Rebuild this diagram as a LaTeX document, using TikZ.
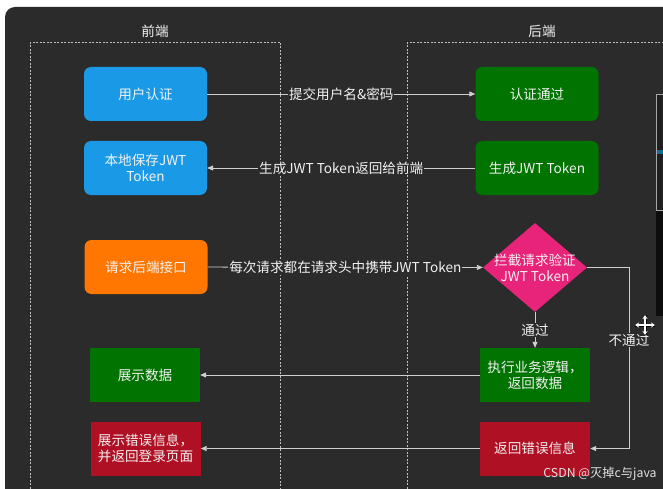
\documentclass[tikz,border=0pt]{standalone}
\usepackage{fontspec}
\setmainfont{Noto Sans CJK SC}
\usetikzlibrary{shapes.geometric,arrows.meta}
\definecolor{bg}{HTML}{2B2B2B}
\definecolor{cblue}{HTML}{1A9AE6}
\definecolor{corange}{HTML}{FF7700}
\definecolor{cgreen}{HTML}{007300}
\definecolor{cred}{HTML}{B01024}
\definecolor{cpink}{HTML}{E8247A}
\definecolor{cline}{HTML}{CFCFCF}
\definecolor{ctext}{HTML}{F2F2F2}
\begin{document}
\begin{tikzpicture}[x=1pt,y=-1pt,
  font=\fontsize{13.6}{16}\selectfont,
  box/.style={minimum width=110pt, minimum height=54pt, text=ctext, align=center, inner sep=2pt},
  rbox/.style={box, minimum width=123pt, rounded corners=7pt},
  conn/.style={draw=cline, line width=0.8pt, -{Triangle[length=6pt,width=5pt]}},
  lbl/.style={fill=bg, text=ctext, inner sep=1pt},
  frame/.style={draw=white!75!black, line width=0.6pt, dash pattern=on 2pt off 1.5pt}]
\useasboundingbox (0,0) rectangle (663,489);
\fill[white] (0,0) rectangle (663,489);
\fill[bg, rounded corners=10pt] (5,7) rectangle (700,520);
% right side window fragment
\fill[black!95] (656,94) rectangle (670,316);
\fill[black!88] (656.5,94.5) rectangle (670,210);
\draw[white!65!black, line width=0.8pt] (656.5,94.5) rectangle (672,210);
\fill[cblue!70!black] (657,150) rectangle (670,154);
% swimlane frames
\draw[frame] (30,42) rectangle (280,510);
\draw[frame] (407,42) rectangle (720,510);
\node[text=ctext] (tf) at (155,31) {前端};
\node[text=ctext] (tb) at (542,31) {后端};
% nodes
\node[rbox, fill=cblue] (ua) at (145.5,94) {用户认证};
\node[rbox, fill=cblue] (save) at (145.5,168) {本地保存JWT\\Token};
\node[rbox, fill=corange] (req) at (146,267) {请求后端接口};
\node[box, fill=cgreen] (show) at (145,375) {展示数据};
\node[box, fill=cred] (showerr) at (145.5,448.5) {展示错误信息，\\并返回登录页面};
\node[rbox, fill=cgreen] (ok) at (537,94) {认证通过};
\node[rbox, fill=cgreen] (gen) at (537,168) {生成JWT Token};
\node[diamond, fill=cpink, minimum width=104pt, minimum height=89pt, inner sep=0pt] (dia) at (535,267.5) {};
\node[text=ctext, align=center, inner sep=0pt] (diatext) at (dia.center) {拦截请求验证\\JWT Token};
\node[box, fill=cgreen] (exec) at (535,375) {执行业务逻辑，\\返回数据};
\node[box, fill=cred] (err) at (535,448.5) {返回错误信息};
% connectors
\draw[conn] (ua) -- node[lbl]{提交用户名\&密码} (ok);
\draw[conn] (gen) -- node[lbl]{生成JWT Token返回给前端} (save);
\draw[conn] (req) -- node[lbl]{每次请求都在请求头中携带JWT Token} (dia);
\draw[conn] (dia) -- node[lbl]{通过} (exec);
\draw[conn] (exec) -- (show);
\draw[conn] (err) -- (showerr);
\coordinate (c1) at (629,267.5);
\coordinate (c2) at (629,448.5);
\draw[conn] (dia.east) -- (c1) -- node[lbl, pos=0.4]{不通过} (c2) -- (err.east);
% cursor
\draw[black, line width=3pt] (635,325) -- (655,325) (645,315) -- (645,335);
\draw[white, line width=1.4pt, {Stealth[length=4pt,width=5pt]}-{Stealth[length=4pt,width=5pt]}] (635,325) -- (655,325);
\draw[white, line width=1.4pt, {Stealth[length=4pt,width=5pt]}-{Stealth[length=4pt,width=5pt]}] (645,315) -- (645,335);
% watermark
\node[text=white!88!black, font=\fontsize{12.3}{14}\selectfont, inner sep=0pt] (wm) at (600,474) {CSDN @灭掉c与java};
\end{tikzpicture}
\end{document}
